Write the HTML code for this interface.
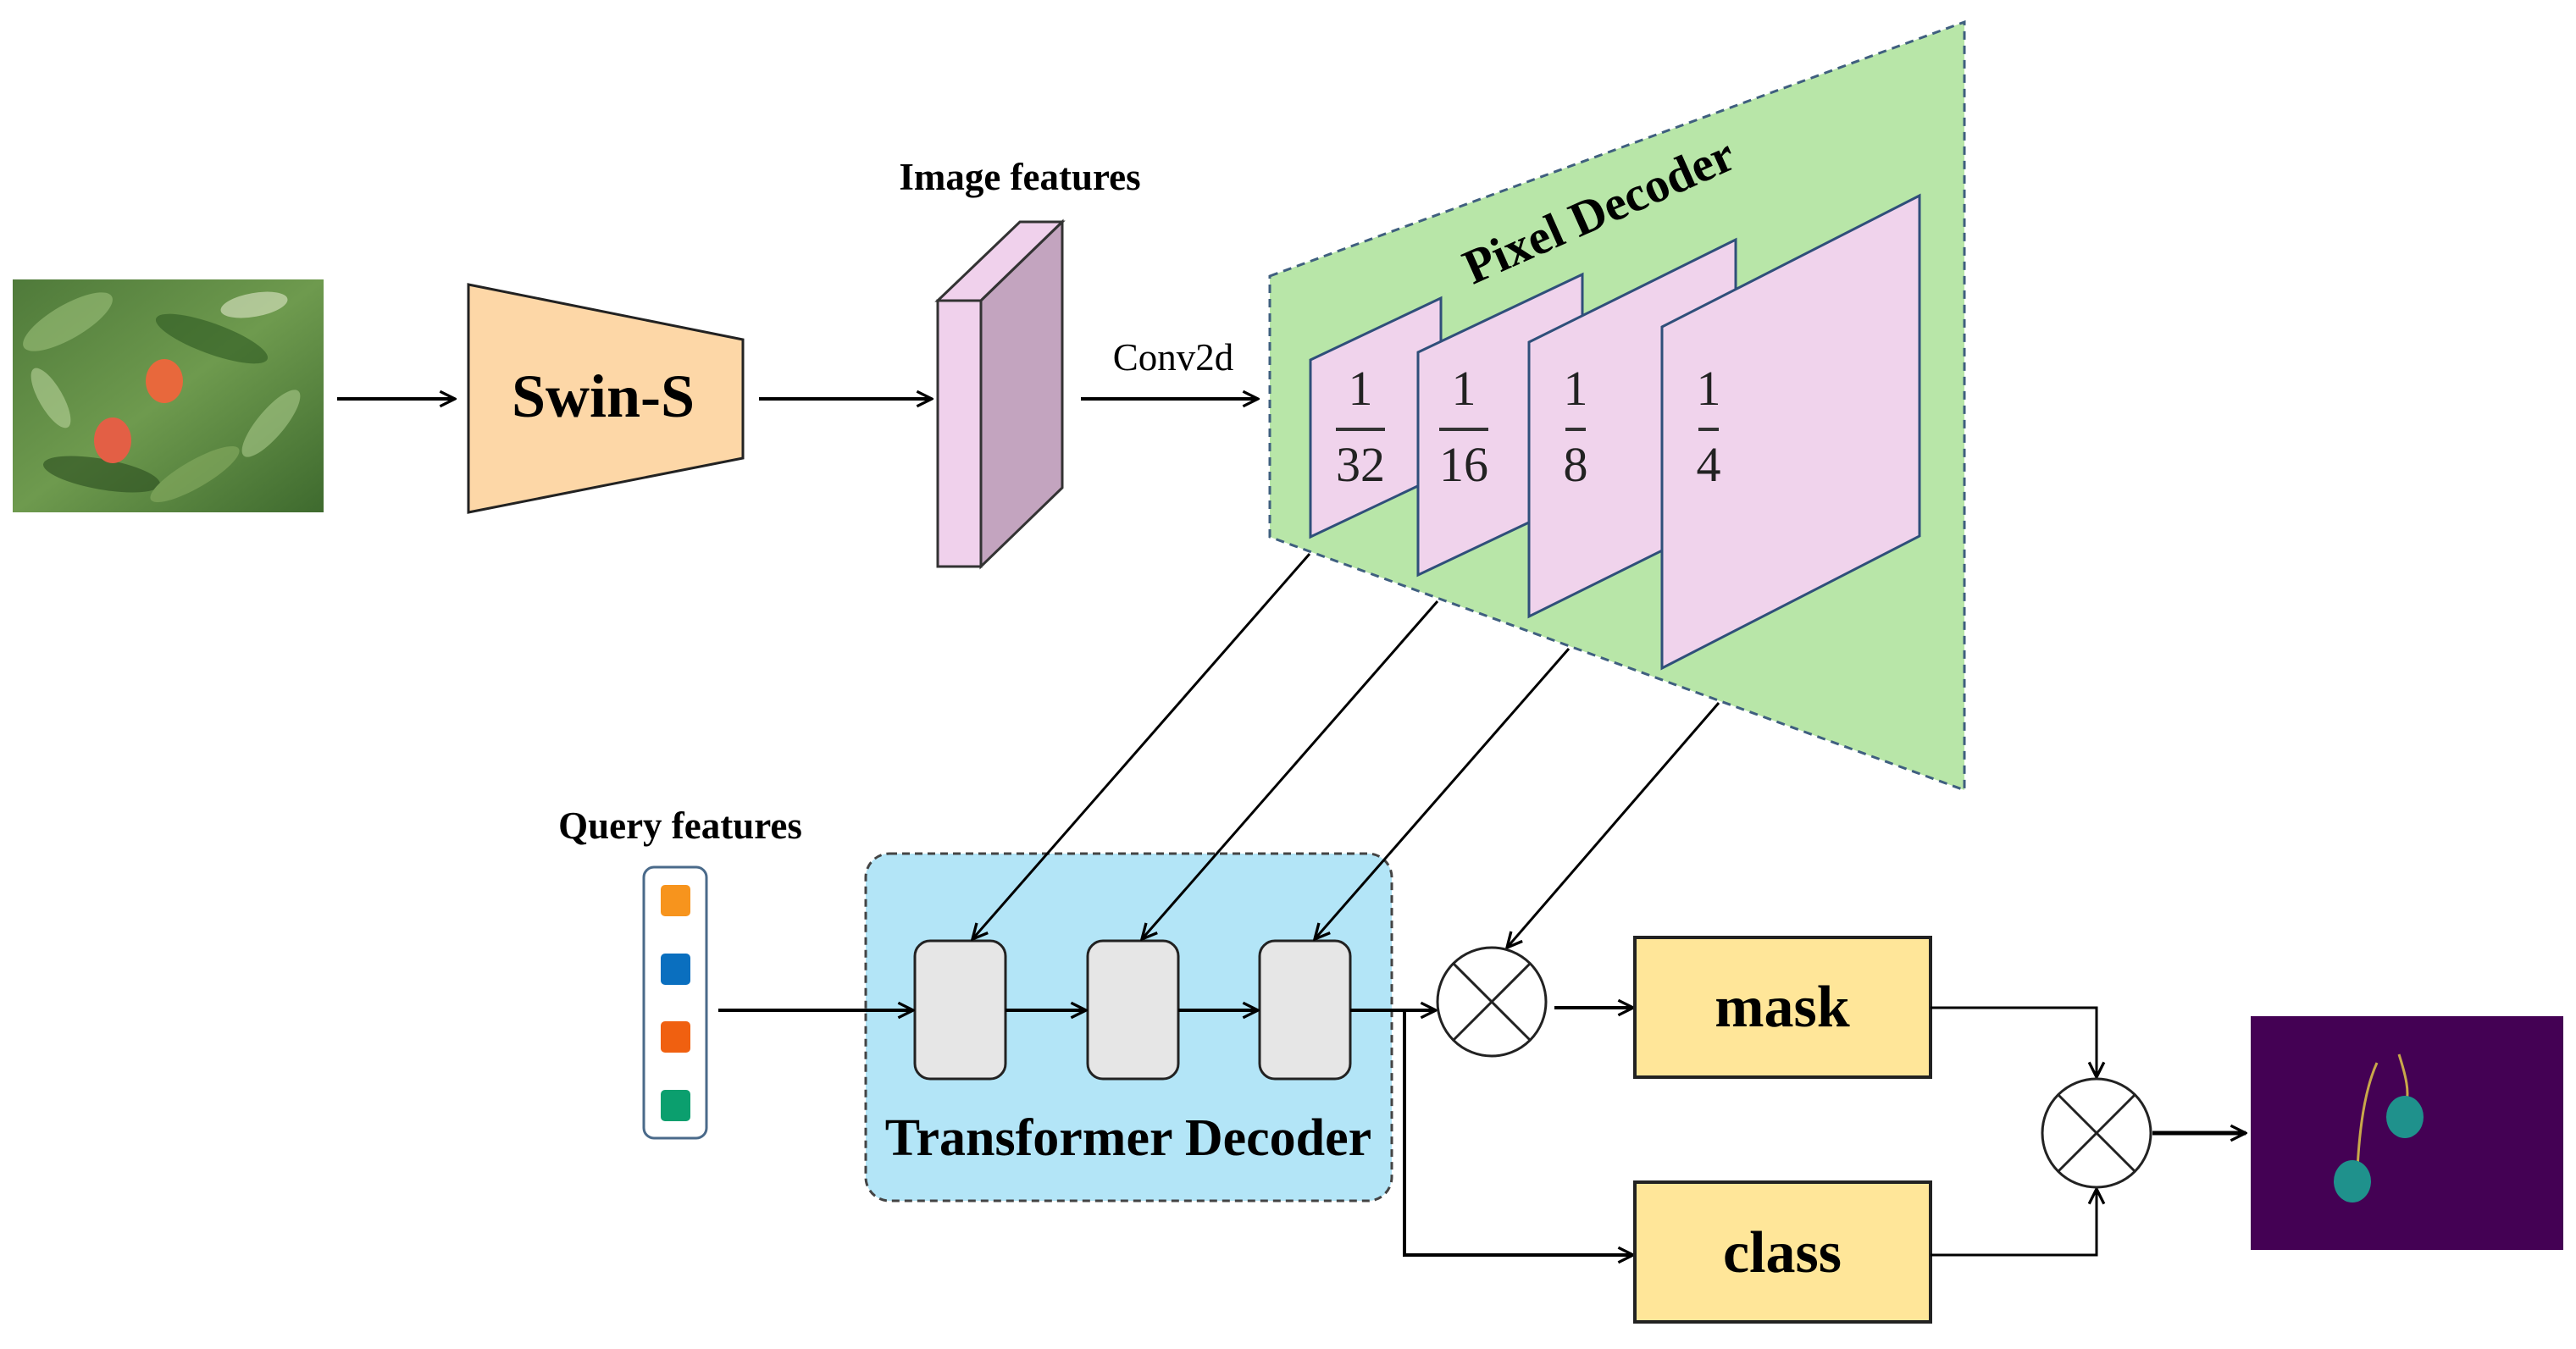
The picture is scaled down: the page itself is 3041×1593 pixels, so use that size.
<!DOCTYPE html>
<html><head><meta charset="utf-8"><style>
html,body{margin:0;padding:0;background:#fff}
svg{display:block}
text{font-family:"Liberation Serif",serif}
</style></head><body>
<svg width="3041" height="1593" viewBox="0 0 3041 1593" xmlns="http://www.w3.org/2000/svg">
<defs>
<marker id="a" viewBox="0 0 20 20" refX="18" refY="10" markerWidth="22" markerHeight="22" orient="auto" markerUnits="userSpaceOnUse">
<path d="M2,2 L18,10 L2,18" fill="none" stroke="#000" stroke-width="3"/>
</marker>
<linearGradient id="lg" x1="0" y1="0" x2="1" y2="1">
<stop offset="0" stop-color="#4f7a3a"/><stop offset="0.5" stop-color="#6e9a4e"/><stop offset="1" stop-color="#3e6a2e"/>
</linearGradient>
</defs>

<!-- photo -->
<rect x="15" y="330" width="367" height="275" fill="url(#lg)"/>
<g opacity="0.6">
<ellipse cx="80" cy="380" rx="60" ry="20" fill="#9cc07a" transform="rotate(-30 80 380)"/>
<ellipse cx="250" cy="400" rx="70" ry="18" fill="#2e5a22" transform="rotate(20 250 400)"/>
<ellipse cx="320" cy="500" rx="50" ry="16" fill="#a9c98a" transform="rotate(-50 320 500)"/>
<ellipse cx="120" cy="560" rx="70" ry="18" fill="#2a4d1f" transform="rotate(10 120 560)"/>
<ellipse cx="300" cy="360" rx="40" ry="14" fill="#dfe8c8" transform="rotate(-10 300 360)"/>
<ellipse cx="60" cy="470" rx="40" ry="14" fill="#b8d39a" transform="rotate(60 60 470)"/>
<ellipse cx="230" cy="560" rx="60" ry="16" fill="#88ad62" transform="rotate(-30 230 560)"/>
</g>
<ellipse cx="194" cy="450" rx="22" ry="26" fill="#e8683c"/>
<ellipse cx="133" cy="520" rx="22" ry="27" fill="#e35f45"/>

<line x1="398" y1="471" x2="537" y2="471" stroke="#000" stroke-width="4" marker-end="url(#a)"/>

<!-- Swin-S -->
<polygon points="553,336 877,401 877,541 553,605" fill="#fdd7a7" stroke="#222" stroke-width="3"/>
<text x="712" y="492" font-size="72" font-weight="bold" text-anchor="middle">Swin-S</text>

<line x1="896" y1="471" x2="1100" y2="471" stroke="#000" stroke-width="4" marker-end="url(#a)"/>

<!-- image features -->
<text x="1204" y="224" font-size="45" font-weight="bold" text-anchor="middle">Image features</text>
<polygon points="1107,355 1204,262 1254,262 1158,355" fill="#f0d1ec" stroke="#333" stroke-width="3"/>
<polygon points="1158,355 1254,262 1254,576 1158,669" fill="#c3a4bf" stroke="#333" stroke-width="3"/>
<rect x="1107" y="355" width="51" height="314" fill="#f0d1ec" stroke="#333" stroke-width="3"/>

<text x="1385" y="437" font-size="45" text-anchor="middle">Conv2d</text>
<line x1="1276" y1="471" x2="1485" y2="471" stroke="#000" stroke-width="4" marker-end="url(#a)"/>

<!-- pixel decoder -->
<polygon points="1499,326 2319,26 2319,933 1499,634" fill="#b8e6a8" stroke="#3f5f7f" stroke-width="3" stroke-dasharray="10,7"/>
<text x="1888" y="268" font-size="58" font-weight="bold" text-anchor="middle" transform="rotate(-24 1888 250)">Pixel Decoder</text>

<g fill="#f0d3ec" stroke="#2f4f7a" stroke-width="3">
<polygon points="1547,425 1701,352 1701,561 1547,634"/>
<polygon points="1674,416 1868,324 1868,587 1674,679"/>
<polygon points="1805,404 2049,283 2049,607 1805,728"/>
<polygon points="1962,386 2266,231 2266,633 1962,789"/>
</g>
<g font-size="58" text-anchor="middle" fill="#222">
<text x="1606" y="478">1</text><line x1="1577" y1="507" x2="1635" y2="507" stroke="#333" stroke-width="4"/><text x="1606" y="568">32</text>
<text x="1728" y="478">1</text><line x1="1699" y1="507" x2="1757" y2="507" stroke="#333" stroke-width="4"/><text x="1728" y="568">16</text>
<text x="1860" y="478">1</text><line x1="1848" y1="507" x2="1872" y2="507" stroke="#333" stroke-width="4"/><text x="1860" y="568">8</text>
<text x="2017" y="478">1</text><line x1="2005" y1="507" x2="2029" y2="507" stroke="#333" stroke-width="4"/><text x="2017" y="568">4</text>
</g>

<!-- query features -->
<text x="803" y="990" font-size="45" font-weight="bold" text-anchor="middle">Query features</text>
<rect x="760" y="1024" width="74" height="320" rx="12" fill="#fff" stroke="#4a6a8a" stroke-width="3"/>
<rect x="780" y="1045" width="35" height="37" rx="5" fill="#f7941d"/>
<rect x="780" y="1126" width="35" height="37" rx="5" fill="#0a6fbf"/>
<rect x="780" y="1206" width="35" height="37" rx="5" fill="#f06010"/>
<rect x="780" y="1287" width="35" height="37" rx="5" fill="#0b9f6e"/>

<!-- transformer decoder -->
<rect x="1022" y="1008" width="621" height="410" rx="28" fill="#b3e5f7" stroke="#444" stroke-width="3" stroke-dasharray="9,6"/>
<text x="1332" y="1364" font-size="62" font-weight="bold" text-anchor="middle">Transformer Decoder</text>
<g fill="#e6e6e6" stroke="#222" stroke-width="3">
<rect x="1080" y="1111" width="107" height="163" rx="18"/>
<rect x="1284" y="1111" width="107" height="163" rx="18"/>
<rect x="1487" y="1111" width="107" height="163" rx="18"/>
</g>
<g stroke="#000" stroke-width="4" fill="none">
<line x1="848" y1="1193" x2="1078" y2="1193" marker-end="url(#a)"/>
<line x1="1187" y1="1193" x2="1282" y2="1193" marker-end="url(#a)"/>
<line x1="1391" y1="1193" x2="1485" y2="1193" marker-end="url(#a)"/>
<line x1="1594" y1="1193" x2="1695" y2="1193" marker-end="url(#a)"/>
<polyline points="1658,1193 1658,1482 1928,1482" marker-end="url(#a)"/>
</g>
<g stroke="#000" stroke-width="3">
<line x1="1546" y1="654" x2="1148" y2="1109" marker-end="url(#a)"/>
<line x1="1697" y1="710" x2="1348" y2="1109" marker-end="url(#a)"/>
<line x1="1852" y1="766" x2="1552" y2="1109" marker-end="url(#a)"/>
<line x1="2029" y1="830" x2="1779" y2="1119" marker-end="url(#a)"/>
</g>

<!-- circle 1 -->
<circle cx="1761" cy="1183" r="64" fill="#fff" stroke="#222" stroke-width="3"/>
<line x1="1716" y1="1138" x2="1806" y2="1228" stroke="#222" stroke-width="3"/>
<line x1="1806" y1="1138" x2="1716" y2="1228" stroke="#222" stroke-width="3"/>
<line x1="1835" y1="1190" x2="1928" y2="1190" stroke="#000" stroke-width="4" marker-end="url(#a)"/>

<!-- mask / class -->
<rect x="1930" y="1107" width="349" height="165" fill="#ffe699" stroke="#222" stroke-width="4"/>
<text x="2104" y="1212" font-size="70" font-weight="bold" text-anchor="middle">mask</text>
<rect x="1930" y="1396" width="349" height="165" fill="#ffe699" stroke="#222" stroke-width="4"/>
<text x="2104" y="1502" font-size="70" font-weight="bold" text-anchor="middle">class</text>

<g stroke="#000" stroke-width="3" fill="none">
<polyline points="2279,1190 2475,1190 2475,1272" marker-end="url(#a)"/>
<polyline points="2279,1482 2475,1482 2475,1404" marker-end="url(#a)"/>
</g>
<circle cx="2475" cy="1338" r="64" fill="#fff" stroke="#222" stroke-width="3"/>
<line x1="2430" y1="1293" x2="2520" y2="1383" stroke="#222" stroke-width="3"/>
<line x1="2520" y1="1293" x2="2430" y2="1383" stroke="#222" stroke-width="3"/>
<line x1="2541" y1="1338" x2="2651" y2="1338" stroke="#000" stroke-width="5" marker-end="url(#a)"/>

<!-- output -->
<rect x="2657" y="1200" width="369" height="276" fill="#440154"/>
<path d="M2806,1255 C2790,1290 2785,1340 2783,1380" stroke="#c9a84a" stroke-width="3" fill="none"/>
<path d="M2832,1245 C2840,1270 2845,1290 2840,1305" stroke="#c9a84a" stroke-width="3" fill="none"/>
<ellipse cx="2839" cy="1319" rx="22" ry="25" fill="#1f918c"/>
<ellipse cx="2777" cy="1395" rx="22" ry="25" fill="#1f918c"/>
</svg>
</body></html>
